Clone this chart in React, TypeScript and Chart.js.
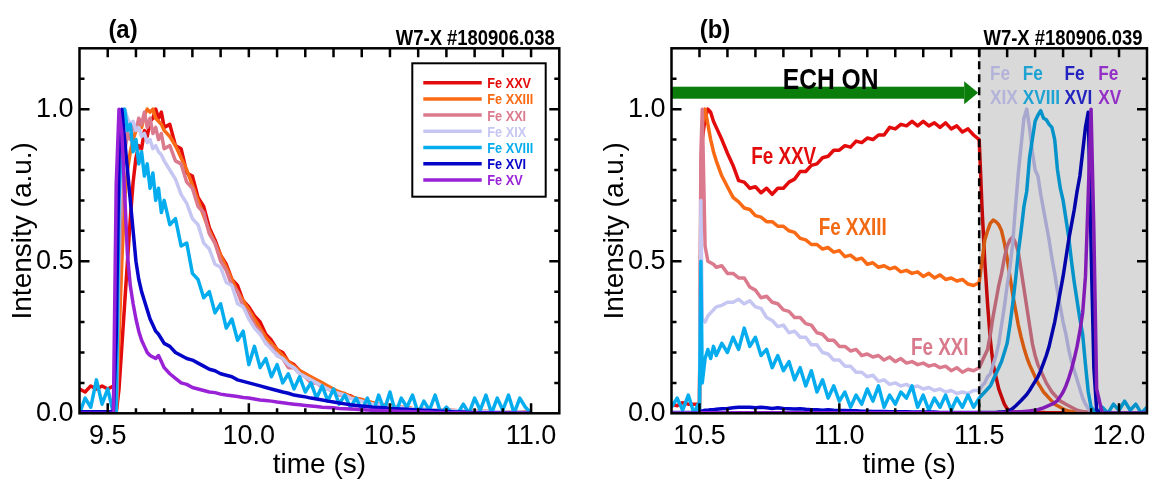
import React, { useEffect, useRef } from "react";
import { Chart, registerables } from "chart.js";

Chart.register(...registerables);

// ---------------- data : panel (a) ----------------
const timesA = [
  9.40, 9.42, 9.44, 9.46, 9.48, 9.50, 9.52,
  9.53, 9.54, 9.55, 9.56, 9.57, 9.58, 9.59, 9.60, 9.61, 9.62, 9.63, 9.64, 9.65, 9.66, 9.67, 9.68, 9.69, 9.70,
  9.72, 9.74, 9.76, 9.78, 9.80, 9.82, 9.84, 9.86, 9.88, 9.90, 9.92, 9.94, 9.96, 9.98,
  10.00, 10.02, 10.04, 10.06, 10.08, 10.10, 10.12, 10.14, 10.16, 10.18,
  10.20, 10.22, 10.24, 10.26, 10.28, 10.30, 10.32, 10.34, 10.36, 10.38,
  10.40, 10.42, 10.44, 10.46, 10.48, 10.50, 10.52, 10.54, 10.56, 10.58,
  10.60, 10.62, 10.64, 10.66, 10.68, 10.70, 10.72, 10.74, 10.76, 10.78,
  10.80, 10.82, 10.84, 10.86, 10.88, 10.90, 10.92, 10.94, 10.96, 10.98, 11.00,
];
const feXXV_A = [
  0.08, 0.07, 0.09, 0.08, 0.09, 0.08, 0.09,
  0.00, 0.08, 0.22, 0.36, 0.50, 0.64, 0.76, 0.84, 0.88, 0.87, 0.93, 0.91, 0.96, 0.97, 1.00, 0.97, 0.99, 0.94,
  0.95, 0.88, 0.87, 0.79, 0.78, 0.71, 0.68, 0.61, 0.57, 0.52, 0.49, 0.44, 0.42, 0.37,
  0.35, 0.32, 0.30, 0.26, 0.24, 0.21, 0.20, 0.17, 0.16, 0.14,
  0.13, 0.11, 0.105, 0.09, 0.085, 0.075, 0.07, 0.06, 0.058, 0.047,
  0.045, 0.035, 0.033, 0.028, 0.027, 0.022, 0.02, 0.018, 0.017, 0.015,
  0.014, 0.012, 0.012, 0.011, 0.01, 0.009, 0.009, 0.008, 0.008, 0.007,
  0.007, 0.006, 0.006, 0.006, 0.005, 0.005, 0.005, 0.004, 0.004, 0.004, 0.004,
];
const feXXIII_A = [
  0.005, 0.005, 0.005, 0.005, 0.005, 0.005, 0.005,
  0.00, 0.25, 0.50, 0.70, 0.80, 0.86, 0.90, 0.93, 0.95, 0.94, 0.98, 1.00, 0.99, 1.00, 0.97, 0.96, 0.95, 0.93,
  0.91, 0.88, 0.84, 0.80, 0.75, 0.70, 0.65, 0.60, 0.56, 0.52, 0.48, 0.44, 0.40, 0.37,
  0.34, 0.31, 0.28, 0.25, 0.23, 0.21, 0.19, 0.17, 0.155, 0.14,
  0.13, 0.12, 0.11, 0.10, 0.09, 0.08, 0.07, 0.065, 0.055, 0.05,
  0.045, 0.04, 0.035, 0.03, 0.028, 0.025, 0.022, 0.02, 0.018, 0.016,
  0.015, 0.013, 0.012, 0.011, 0.01, 0.01, 0.009, 0.008, 0.008, 0.007,
  0.007, 0.006, 0.006, 0.005, 0.005, 0.005, 0.004, 0.004, 0.004, 0.003, 0.003,
];
const feXXI_A = [
  0.005, 0.005, 0.005, 0.005, 0.005, 0.005, 0.005,
  0.00, 0.45, 0.75, 0.86, 0.92, 0.90, 0.95, 0.93, 0.97, 0.95, 0.99, 0.94, 0.97, 0.92, 0.94, 0.90, 0.92, 0.87,
  0.88, 0.83, 0.82, 0.76, 0.74, 0.68, 0.66, 0.59, 0.56, 0.50, 0.47, 0.42, 0.40, 0.35,
  0.33, 0.29, 0.27, 0.23, 0.22, 0.19, 0.18, 0.15, 0.15, 0.13,
  0.12, 0.10, 0.10, 0.085, 0.08, 0.07, 0.06, 0.06, 0.05, 0.045,
  0.04, 0.035, 0.03, 0.03, 0.025, 0.022, 0.02, 0.02, 0.016, 0.015,
  0.013, 0.012, 0.011, 0.01, 0.01, 0.008, 0.008, 0.007, 0.007, 0.006,
  0.006, 0.005, 0.005, 0.004, 0.004, 0.004, 0.003, 0.003, 0.003, 0.003, 0.002,
];
const feXIX_A = [
  0.005, 0.005, 0.005, 0.005, 0.005, 0.005, 0.005,
  0.00, 0.60, 0.92, 1.00, 0.97, 0.95, 0.96, 0.93, 0.94, 0.91, 0.92, 0.89, 0.90, 0.87, 0.88, 0.86, 0.85, 0.83,
  0.80, 0.77, 0.72, 0.69, 0.64, 0.62, 0.56, 0.54, 0.49, 0.48, 0.43, 0.42, 0.36, 0.35,
  0.31, 0.28, 0.26, 0.23, 0.21, 0.19, 0.18, 0.16, 0.15, 0.13,
  0.12, 0.11, 0.10, 0.09, 0.08, 0.07, 0.065, 0.06, 0.05, 0.045,
  0.04, 0.035, 0.03, 0.03, 0.025, 0.022, 0.02, 0.018, 0.016, 0.015,
  0.014, 0.013, 0.012, 0.011, 0.01, 0.01, 0.009, 0.008, 0.008, 0.007,
  0.007, 0.006, 0.006, 0.005, 0.005, 0.005, 0.004, 0.004, 0.004, 0.003, 0.003,
];
const feXVIII_A = [
  0.00, 0.05, 0.02, 0.11, 0.03, 0.08, 0.00,
  0.00, 0.70, 0.95, 1.00, 0.93, 0.95, 0.86, 0.90, 0.82, 0.86, 0.78, 0.82, 0.74, 0.79, 0.70, 0.74, 0.66, 0.70,
  0.62, 0.64, 0.55, 0.56, 0.46, 0.44, 0.38, 0.40, 0.33, 0.36, 0.28, 0.31, 0.24, 0.27,
  0.16, 0.22, 0.15, 0.18, 0.12, 0.16, 0.10, 0.13, 0.08, 0.12,
  0.07, 0.10, 0.05, 0.09, 0.04, 0.08, 0.03, 0.06, 0.02, 0.05,
  0.01, 0.05, 0.00, 0.06, 0.01, 0.07, 0.00, 0.05, 0.02, 0.06,
  0.00, 0.04, 0.01, 0.06, 0.00, 0.02, 0.00, 0.00, 0.03, 0.00,
  0.05, 0.01, 0.06, 0.00, 0.05, 0.01, 0.06, 0.00, 0.05, 0.02, 0.00,
];
const feXVI_A = [
  0.005, 0.005, 0.005, 0.005, 0.005, 0.005, 0.005,
  0.25, 0.85, 1.00, 0.90, 0.80, 0.70, 0.60, 0.50, 0.44, 0.40, 0.37, 0.34, 0.31, 0.29, 0.27, 0.26, 0.245, 0.23,
  0.22, 0.20, 0.19, 0.18, 0.175, 0.165, 0.155, 0.145, 0.14, 0.13, 0.125, 0.12, 0.11, 0.105,
  0.10, 0.095, 0.09, 0.085, 0.08, 0.075, 0.07, 0.066, 0.06, 0.057,
  0.054, 0.05, 0.047, 0.044, 0.04, 0.037, 0.034, 0.031, 0.028, 0.026,
  0.024, 0.022, 0.02, 0.019, 0.018, 0.016, 0.015, 0.014, 0.013, 0.012,
  0.011, 0.01, 0.009, 0.008, 0.007, 0.006, 0.005, 0.004, 0.004, 0.003,
  0.003, 0.002, 0.002, 0.002, 0.001, 0.001, 0.001, 0, 0, 0, 0,
];
const feXV_A = [
  0, 0, 0, 0, 0, 0, 0,
  0.75, 1.00, 0.92, 0.72, 0.52, 0.42, 0.36, 0.31, 0.27, 0.24, 0.22, 0.20, 0.19, 0.185, 0.18, 0.19, 0.17, 0.15,
  0.13, 0.115, 0.10, 0.095, 0.085, 0.08, 0.075, 0.07, 0.068, 0.063, 0.06, 0.058, 0.055, 0.052,
  0.05, 0.047, 0.044, 0.042, 0.04, 0.037, 0.035, 0.032, 0.03, 0.028,
  0.026, 0.024, 0.022, 0.02, 0.019, 0.018, 0.016, 0.015, 0.014, 0.013,
  0.012, 0.011, 0.01, 0.009, 0.008, 0.008, 0.007, 0.006, 0.006, 0.005,
  0.005, 0.004, 0.004, 0.003, 0.003, 0.002, 0.002, 0.002, 0.001, 0.001,
  0.001, 0, 0, 0, 0, 0, 0, 0, 0, 0, 0,
];

// ---------------- data : panel (b) ----------------
const timesB = [
  10.40, 10.42, 10.44, 10.46, 10.48, 10.495,
  10.500, 10.505, 10.510, 10.520, 10.530, 10.540, 10.550, 10.560,
  10.58, 10.60, 10.62, 10.64, 10.66, 10.68, 10.70, 10.72, 10.74, 10.76,
  10.78, 10.80, 10.82, 10.84, 10.86, 10.88, 10.90, 10.92, 10.94, 10.96,
  10.98, 11.00, 11.02, 11.04, 11.06, 11.08, 11.10, 11.12, 11.14, 11.16,
  11.18, 11.20, 11.22, 11.24, 11.26, 11.28, 11.30, 11.32, 11.34, 11.36,
  11.38, 11.40, 11.42, 11.44, 11.46, 11.48, 11.50, 11.51, 11.52, 11.53,
  11.54, 11.55, 11.56, 11.57, 11.58, 11.59, 11.60, 11.61, 11.62, 11.63,
  11.64, 11.65, 11.66, 11.67, 11.68, 11.69, 11.70, 11.71, 11.72, 11.73,
  11.74, 11.75, 11.76, 11.77, 11.78, 11.79, 11.80, 11.81, 11.82, 11.83,
  11.84, 11.85, 11.86, 11.87, 11.88, 11.89, 11.90, 11.91, 11.92, 11.94,
  11.96, 11.98, 12.00, 12.02, 12.04, 12.06, 12.08, 12.10,
];
const feXXV_B = [
  0.03, 0.025, 0.035, 0.03, 0.03, 0.03,
  0.03, 0.60, 0.90, 0.97, 1.00, 0.99, 0.96, 0.94,
  0.90, 0.855, 0.815, 0.765, 0.76, 0.74, 0.745, 0.725, 0.74, 0.72,
  0.74, 0.74, 0.76, 0.77, 0.795, 0.795, 0.815, 0.82, 0.84, 0.845,
  0.865, 0.865, 0.88, 0.875, 0.895, 0.89, 0.905, 0.90, 0.915, 0.915,
  0.94, 0.935, 0.95, 0.945, 0.96, 0.945, 0.96, 0.945, 0.955, 0.94,
  0.955, 0.935, 0.945, 0.925, 0.935, 0.915, 0.90, 0.68, 0.50, 0.36,
  0.24, 0.16, 0.12, 0.08, 0.055, 0.03, 0.015, 0.008, 0.005, 0.004,
  0.003, 0.003, 0.003, 0.003, 0.003, 0.003, 0.003, 0.003, 0.003, 0.003,
  0.002, 0.002, 0.002, 0.002, 0.002, 0.002, 0.002, 0.002, 0.002, 0.002,
  0.002, 0.002, 0.001, 0.001, 0.001, 0.001, 0.001, 0, 0, 0,
  0, 0, 0, 0, 0, 0, 0, 0,
];
const feXXIII_B = [
  0.005, 0.005, 0.005, 0.005, 0.005, 0.005,
  0.01, 0.70, 0.95, 1.00, 0.95, 0.90, 0.86, 0.83,
  0.78, 0.745, 0.71, 0.695, 0.675, 0.67, 0.65, 0.645, 0.63, 0.63,
  0.615, 0.615, 0.60, 0.595, 0.575, 0.57, 0.555, 0.555, 0.54, 0.545,
  0.53, 0.535, 0.515, 0.52, 0.505, 0.51, 0.49, 0.495, 0.48, 0.485,
  0.475, 0.48, 0.465, 0.47, 0.46, 0.465, 0.45, 0.46, 0.445, 0.455,
  0.44, 0.445, 0.435, 0.44, 0.425, 0.42, 0.43, 0.50, 0.57, 0.60,
  0.625, 0.635, 0.63, 0.62, 0.60, 0.56, 0.51, 0.45, 0.39, 0.34,
  0.29, 0.25, 0.215, 0.185, 0.16, 0.14, 0.12, 0.10, 0.085, 0.07,
  0.06, 0.05, 0.04, 0.03, 0.025, 0.02, 0.015, 0.01, 0.008, 0.006,
  0.005, 0.004, 0.003, 0.003, 0.002, 0.002, 0.001, 0.001, 0, 0,
  0, 0, 0, 0, 0, 0, 0, 0,
];
const feXXI_B = [
  0.005, 0.005, 0.005, 0.005, 0.005, 0.005,
  0.01, 0.85, 1.00, 0.55, 0.50, 0.495, 0.49, 0.48,
  0.485, 0.46, 0.46, 0.445, 0.445, 0.415, 0.405, 0.38, 0.385, 0.365,
  0.36, 0.34, 0.335, 0.315, 0.315, 0.295, 0.29, 0.265, 0.26, 0.24,
  0.24, 0.22, 0.22, 0.205, 0.21, 0.19, 0.195, 0.185, 0.19, 0.175,
  0.185, 0.17, 0.18, 0.165, 0.17, 0.16, 0.165, 0.155, 0.16, 0.15,
  0.155, 0.14, 0.15, 0.135, 0.145, 0.14, 0.15, 0.17, 0.19, 0.21,
  0.26, 0.32, 0.37, 0.42, 0.46, 0.51, 0.55, 0.57, 0.58, 0.56,
  0.53, 0.47, 0.41, 0.35, 0.29, 0.23, 0.19, 0.16, 0.14, 0.12,
  0.10, 0.085, 0.07, 0.06, 0.05, 0.04, 0.035, 0.03, 0.025, 0.02,
  0.015, 0.01, 0.008, 0.006, 0.005, 0.004, 0.003, 0.002, 0.001, 0,
  0, 0, 0, 0, 0, 0, 0, 0,
];
const feXIX_B = [
  0.005, 0.005, 0.005, 0.005, 0.005, 0.005,
  0.01, 0.70, 0.31, 0.30, 0.32, 0.33, 0.34, 0.35,
  0.355, 0.365, 0.365, 0.375, 0.36, 0.37, 0.35, 0.345, 0.315, 0.305,
  0.285, 0.29, 0.265, 0.27, 0.25, 0.25, 0.225, 0.225, 0.20, 0.195,
  0.175, 0.175, 0.155, 0.155, 0.135, 0.135, 0.12, 0.125, 0.105, 0.11,
  0.095, 0.10, 0.09, 0.095, 0.085, 0.09, 0.08, 0.085, 0.075, 0.08,
  0.07, 0.075, 0.065, 0.07, 0.065, 0.075, 0.075, 0.09, 0.10, 0.12,
  0.13, 0.16, 0.19, 0.23, 0.29, 0.35, 0.42, 0.48, 0.56, 0.68,
  0.79, 0.88, 0.97, 1.00, 0.94, 0.86, 0.80, 0.78, 0.72, 0.67,
  0.62, 0.57, 0.51, 0.46, 0.40, 0.35, 0.30, 0.26, 0.21, 0.17,
  0.14, 0.11, 0.08, 0.05, 0.03, 0.015, 0.005, 0, 0, 0,
  0, 0, 0, 0, 0, 0, 0, 0,
];
const feXVIII_B = [
  0.02, 0.05, 0.01, 0.06, 0.00, 0.03,
  0.00, 0.50, 0.10, 0.18, 0.21, 0.18, 0.22, 0.19,
  0.23, 0.20, 0.25, 0.21, 0.28, 0.22, 0.25, 0.19, 0.21, 0.15,
  0.19, 0.14, 0.17, 0.11, 0.15, 0.09, 0.14, 0.07, 0.11, 0.05,
  0.09, 0.04, 0.07, 0.02, 0.06, 0.03, 0.08, 0.04, 0.09, 0.02,
  0.06, 0.03, 0.07, 0.05, 0.09, 0.02, 0.06, 0.01, 0.05, 0.02,
  0.06, 0.01, 0.05, 0.02, 0.06, 0.02, 0.05, 0.06, 0.07, 0.08,
  0.09, 0.11, 0.13, 0.15, 0.17, 0.20, 0.23, 0.29, 0.36, 0.44,
  0.53, 0.60, 0.68, 0.73, 0.84, 0.90, 0.96, 0.98, 0.995, 0.97,
  0.965, 0.95, 0.94, 0.90, 0.80, 0.74, 0.70, 0.64, 0.58, 0.50,
  0.43, 0.37, 0.31, 0.26, 0.16, 0.07, 0.02, 0.01, 0.00, 0.02,
  0.00, 0.03, 0.01, 0.04, 0.01, 0.03, 0.00, 0.02,
];
const feXVI_B = [
  0, 0, 0, 0, 0, 0,
  0.0, 0.005, 0.008, 0.01, 0.01, 0.012, 0.012, 0.013,
  0.015, 0.016, 0.018, 0.02, 0.02, 0.02, 0.018, 0.02, 0.018, 0.016,
  0.018, 0.016, 0.015, 0.014, 0.015, 0.013, 0.012, 0.012, 0.01, 0.012,
  0.01, 0.009, 0.009, 0.008, 0.008, 0.007, 0.007, 0.006, 0.006, 0.006,
  0.005, 0.005, 0.005, 0.005, 0.004, 0.004, 0.004, 0.004, 0.004, 0.003,
  0.003, 0.003, 0.003, 0.003, 0.003, 0.003, 0.003, 0.003, 0.003, 0.003,
  0.003, 0.003, 0.003, 0.004, 0.004, 0.005, 0.006, 0.01, 0.016, 0.024,
  0.033, 0.042, 0.052, 0.062, 0.075, 0.09, 0.105, 0.12, 0.14, 0.165,
  0.19, 0.22, 0.26, 0.30, 0.35, 0.40, 0.45, 0.51, 0.57, 0.62,
  0.67, 0.73, 0.78, 0.86, 0.94, 0.99, 0.55, 0.15, 0.01, 0,
  0, 0, 0, 0, 0, 0, 0, 0,
];
const feXV_B = [
  0, 0, 0, 0, 0, 0,
  0, 0.002, 0.002, 0.002, 0.002, 0.002, 0.002, 0.002,
  0.002, 0.002, 0.002, 0.002, 0.002, 0.002, 0.002, 0.002, 0.002, 0.002,
  0.002, 0.002, 0.002, 0.002, 0.002, 0.002, 0.002, 0.002, 0.002, 0.002,
  0.002, 0.002, 0.002, 0.002, 0.002, 0.002, 0.002, 0.002, 0.002, 0.002,
  0.002, 0.002, 0.002, 0.002, 0.002, 0.002, 0.002, 0.002, 0.002, 0.002,
  0.002, 0.002, 0.002, 0.002, 0.002, 0.002, 0.002, 0.002, 0.002, 0.002,
  0.002, 0.002, 0.002, 0.002, 0.002, 0.003, 0.003, 0.003, 0.004, 0.004,
  0.005, 0.005, 0.006, 0.007, 0.008, 0.009, 0.01, 0.012, 0.015, 0.018,
  0.022, 0.026, 0.03, 0.035, 0.042, 0.055, 0.07, 0.09, 0.115, 0.145,
  0.18, 0.22, 0.27, 0.33, 0.45, 0.72, 1.00, 0.60, 0.08, 0,
  0, 0, 0, 0, 0, 0, 0, 0,
];

// ---------------- labels / styles ----------------
const seriesNames = ["Fe XXV", "Fe XXIII", "Fe XXI", "Fe XIX", "Fe XVIII", "Fe XVI", "Fe XV"];
const seriesColors = ["#e30b0b", "#fa6a14", "#db7a8d", "#c6c6f2", "#06adee", "#0505c9", "#9a22d6"];
const yTickLabels = ["0.0", "0.5", "1.0"];
const xTickLabelsA = ["9.5", "10.0", "10.5", "11.0"];
const xTickLabelsB = ["10.5", "11.0", "11.5", "12.0"];

const FONT = '"Liberation Sans", Arial, Helvetica, sans-serif';

type Note = { lines: string[]; t: number; v: number; color: string; size: number; gap?: number };
type Panel = {
  letter: string;
  shot: string;
  xMin: number;
  xMax: number;
  times: number[];
  values: number[][];
  xLabels: string[];
  legend: boolean;
  shadeFrom?: number;
  arrow?: { from: number; to: number; v: number; color: string };
  notes: Note[];
  rightPad: number;
};

const panelA: Panel = {
  letter: "(a)",
  shot: "W7-X #180906.038",
  xMin: 9.4,
  xMax: 11.1,
  times: timesA,
  values: [feXXV_A, feXXIII_A, feXXI_A, feXIX_A, feXVIII_A, feXVI_A, feXV_A],
  xLabels: xTickLabelsA,
  legend: true,
  notes: [],
  rightPad: 32.7,
};

const panelB: Panel = {
  letter: "(b)",
  shot: "W7-X #180906.039",
  xMin: 10.4,
  xMax: 12.1,
  times: timesB,
  values: [feXXV_B, feXXIII_B, feXXI_B, feXIX_B, feXVIII_B, feXVI_B, feXV_B],
  xLabels: xTickLabelsB,
  legend: false,
  shadeFrom: 11.5,
  arrow: { from: 10.4, to: 11.5, v: 1.054, color: "#0b7d0b" },
  notes: [
    { lines: ["ECH ON"], t: 10.798, v: 1.066, color: "#000", size: 30 },
    { lines: ["Fe XXV"], t: 10.685, v: 0.82, color: "#e30b0b", size: 23 },
    { lines: ["Fe XXIII"], t: 10.926, v: 0.585, color: "#f26a14", size: 23 },
    { lines: ["Fe XXI"], t: 11.256, v: 0.191, color: "#d97a8c", size: 23 },
    { lines: ["Fe", "XIX"], t: 11.539, v: 1.096, color: "#b3b3d9", size: 21, gap: 24 },
    { lines: ["Fe", "XVIII"], t: 11.656, v: 1.096, color: "#1ea3d2", size: 21, gap: 24 },
    { lines: ["Fe", "XVI"], t: 11.805, v: 1.096, color: "#2323bf", size: 21, gap: 24 },
    { lines: ["Fe", "XV"], t: 11.926, v: 1.096, color: "#9331c6", size: 21, gap: 24 },
  ],
  rightPad: 2,
};

const isHalf = (v: number) => Math.abs(v * 2 - Math.round(v * 2)) < 1e-6;

function condText(
  ctx: CanvasRenderingContext2D,
  text: string,
  x: number,
  y: number,
  size: number,
  color: string,
  align: "left" | "right" | "center" = "left",
  sx = 0.82
) {
  ctx.save();
  ctx.font = `bold ${size}px ${FONT}`;
  ctx.fillStyle = color;
  ctx.textBaseline = "alphabetic";
  ctx.textAlign = "left";
  const w = ctx.measureText(text).width * sx;
  const x0 = align === "left" ? x : align === "right" ? x - w : x - w / 2;
  ctx.translate(x0, y);
  ctx.scale(sx, 1);
  ctx.fillText(text, 0, 0);
  ctx.restore();
}

function decor(spec: Panel) {
  return {
    id: "decor",
    afterDatasetsDraw(chart: any) {
      const { ctx, chartArea: ca } = chart;
      const xs = chart.scales.x;
      const ys = chart.scales.y;
      ctx.save();

      if (spec.shadeFrom !== undefined) {
        const px = xs.getPixelForValue(spec.shadeFrom);
        ctx.fillStyle = "rgba(0,0,0,0.15)";
        ctx.fillRect(px, ca.top, ca.right - px, ca.bottom - ca.top);
        ctx.strokeStyle = "#000";
        ctx.lineWidth = 2.5;
        ctx.setLineDash([8, 5]);
        ctx.beginPath();
        ctx.moveTo(px, ca.top);
        ctx.lineTo(px, ca.bottom);
        ctx.stroke();
        ctx.setLineDash([]);
      }

      if (spec.arrow) {
        const a = spec.arrow;
        const x0 = xs.getPixelForValue(a.from);
        const x1 = xs.getPixelForValue(a.to) - 1;
        const yc = ys.getPixelForValue(a.v);
        ctx.fillStyle = a.color;
        ctx.fillRect(x0, yc - 6, x1 - 14 - x0, 12);
        ctx.beginPath();
        ctx.moveTo(x1 - 14, yc - 11.5);
        ctx.lineTo(x1, yc);
        ctx.lineTo(x1 - 14, yc + 11.5);
        ctx.closePath();
        ctx.fill();
      }

      for (const n of spec.notes) {
        const px = xs.getPixelForValue(n.t);
        const py = ys.getPixelForValue(n.v);
        n.lines.forEach((ln, k) => condText(ctx, ln, px, py + k * (n.gap || 0), n.size, n.color));
      }

      if (spec.legend) {
        const bx = ca.right - 147;
        const by = ca.top + 15;
        const bw = 133.4;
        const bh = 133.4;
        ctx.fillStyle = "#fff";
        ctx.fillRect(bx, by, bw, bh);
        ctx.strokeStyle = "#000";
        ctx.lineWidth = 2;
        ctx.strokeRect(bx, by, bw, bh);
        seriesNames.forEach((name, i) => {
          const ry = by + 19.4 + i * 16.2;
          ctx.strokeStyle = seriesColors[i];
          ctx.lineWidth = 3.5;
          ctx.beginPath();
          ctx.moveTo(bx + 11, ry);
          ctx.lineTo(bx + 69.4, ry);
          ctx.stroke();
          condText(ctx, name, bx + 75, ry + 5.5, 15.5, seriesColors[i]);
        });
      }

      // frame
      ctx.strokeStyle = "#000";
      ctx.lineWidth = 2.5;
      ctx.strokeRect(ca.left, ca.top, ca.right - ca.left, ca.bottom - ca.top);
      // inward ticks on all four sides
      ctx.beginPath();
      for (const tk of xs.ticks) {
        const v = tk.value;
        if (v <= xs.min + 1e-6 || v >= xs.max - 1e-6) continue;
        const p = xs.getPixelForValue(v);
        ctx.moveTo(p, ca.bottom);
        ctx.lineTo(p, ca.bottom - (isHalf(v) ? 10 : 5));
        ctx.moveTo(p, ca.top);
        ctx.lineTo(p, ca.top + 9);
      }
      for (const tk of ys.ticks) {
        const v = tk.value;
        if (v <= ys.min + 1e-6 || v >= ys.max - 1e-6) continue;
        const p = ys.getPixelForValue(v);
        const len = isHalf(v) ? 10 : 5;
        ctx.moveTo(ca.left, p);
        ctx.lineTo(ca.left + len, p);
        ctx.moveTo(ca.right, p);
        ctx.lineTo(ca.right - len, p);
      }
      ctx.stroke();

      condText(ctx, spec.letter, ca.left + 43.5, 37.5, 26, "#000", "center", 0.92);
      condText(ctx, spec.shot, ca.right - 4.5, 44.5, 22.5, "#000", "right", 0.82);

      ctx.restore();
    },
  };
}

function makeChart(canvas: HTMLCanvasElement, spec: Panel) {
  const datasets = spec.values.map((vals, i) => ({
    label: seriesNames[i],
    data: spec.times.map((t, k) => ({ x: t, y: vals[k] })),
    borderColor: seriesColors[i],
    backgroundColor: seriesColors[i],
    borderWidth: 3.5,
    pointRadius: 0,
    tension: 0,
    fill: false,
    borderJoinStyle: "round" as const,
    order: seriesNames.length - i,
  }));
  return new Chart(canvas, {
    type: "line",
    data: { datasets },
    plugins: [decor(spec)],
    options: {
      responsive: false,
      animation: false,
      devicePixelRatio: 1,
      layout: { padding: { left: 0, right: spec.rightPad, top: 48.3, bottom: 0 } },
      plugins: { legend: { display: false }, tooltip: { enabled: false } },
      scales: {
        x: {
          type: "linear",
          min: spec.xMin,
          max: spec.xMax,
          grid: { display: false, drawTicks: false },
          border: { display: false },
          ticks: {
            stepSize: 0.1,
            autoSkip: false,
            maxRotation: 0,
            minRotation: 0,
            padding: 7,
            color: "#000",
            font: { size: 27, family: FONT },
            callback: (v: any) => {
              const s = Number(v).toFixed(1);
              return spec.xLabels.includes(s) ? s : "";
            },
          },
          title: {
            display: true,
            text: "time (s)",
            color: "#000",
            font: { size: 28, family: FONT },
            padding: { top: 0, bottom: 0 },
          },
          afterFit: (s: any) => {
            s.height = 68.7;
          },
        },
        y: {
          type: "linear",
          min: 0,
          max: 1.2,
          grid: { display: false, drawTicks: false },
          border: { display: false },
          ticks: {
            stepSize: 0.1,
            autoSkip: false,
            padding: 6,
            color: "#000",
            font: { size: 27, family: FONT },
            callback: (v: any) => {
              const s = Number(v).toFixed(1);
              return yTickLabels.includes(s) ? s : "";
            },
          },
          title: {
            display: true,
            text: "Intensity (a.u.)",
            color: "#000",
            font: { size: 28, family: FONT },
            padding: { top: 6, bottom: 0 },
          },
          afterFit: (s: any) => {
            s.width = 79.5;
          },
        },
      },
    },
  } as any);
}

export default function App() {
  const refA = useRef<HTMLCanvasElement>(null);
  const refB = useRef<HTMLCanvasElement>(null);
  useEffect(() => {
    const a = makeChart(refA.current!, panelA);
    const b = makeChart(refB.current!, panelB);
    return () => {
      a.destroy();
      b.destroy();
    };
  }, []);
  return (
    <div style={{ position: "absolute", left: 0, top: 0, width: 1154, height: 482, background: "#fff" }}>
      <canvas
        ref={refA}
        width={592}
        height={482}
        style={{ position: "absolute", left: 0, top: 0, width: 592, height: 482 }}
      />
      <canvas
        ref={refB}
        width={562}
        height={482}
        style={{ position: "absolute", left: 592, top: 0, width: 562, height: 482 }}
      />
    </div>
  );
}
